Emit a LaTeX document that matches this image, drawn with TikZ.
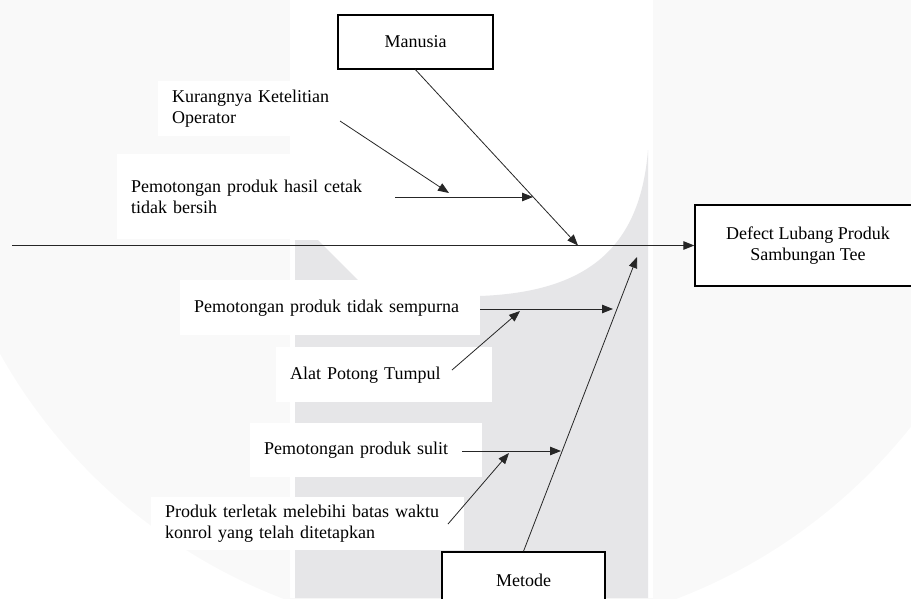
\documentclass[tikz,border=0pt]{standalone}
\usepackage{fontspec}
\setmainfont{Liberation Serif}
\usetikzlibrary{arrows.meta}
\definecolor{wmdisc}{RGB}{249,249,249}
\definecolor{wmband}{RGB}{230,230,232}

\begin{document}
\begin{tikzpicture}[x=1pt,y=-1pt,font=\fontsize{18}{21.5}\selectfont,
  bone/.style={draw=black!85,line width=0.8pt},
  arr/.style={bone,-{Triangle[length=11pt,width=8.5pt]}},
  catbox/.style={draw,line width=1.4pt,fill=white,minimum width=#1},
  cause/.style={fill=white,anchor=north west,align=left,inner xsep=14pt,inner ysep=0pt}]
	\useasboundingbox (0,0) rectangle (911,598);
	%watermark
	\begin{scope}
	  \clip (0,0) rectangle (911,598);
	  \fill[wmdisc] (480,85) circle[radius=550pt];
	  \fill[white] (290,0) rectangle (653,598);
	  \fill[wmband] (295,598) -- (295,240) -- (318,240) -- (362,284) -- (480,296)
	    .. controls (585,292) and (640,250) .. (648,150) -- (648,598) -- cycle;
	\end{scope}

	%causes
	\node[cause,text width=162pt,minimum height=55pt] (kurang) at (158,81) {Kurangnya Ketelitian\\Operator};
	\node[cause,text width=252pt,minimum height=85pt] (cetak) at (117,154) {Pemotongan produk hasil cetak\\tidak bersih};
	\node[cause,text width=272pt,minimum height=55pt] (sempurna) at (180,280) {Pemotongan produk tidak sempurna};
	\node[cause,text width=188pt,minimum height=55pt] (tumpul) at (276,347) {Alat Potong Tumpul};
	\node[cause,text width=204pt,minimum height=54pt] (sulit) at (250,423) {Pemotongan produk sulit};
	\node[cause,text width=285pt,minimum height=53pt] (terletak) at (151,497) {Produk terletak melebihi batas waktu\\konrol yang telah ditetapkan};

	%categories and effect
	\node[catbox=155pt,minimum height=54pt] (man) at (415.5,42) {Manusia};
	\node[catbox=163pt,minimum height=56pt] (met) at (523.5,580) {Metode};
	\node[catbox=226pt,minimum height=81pt,align=center] (eff) at (808,245.5) {Defect Lubang Produk\\Sambungan Tee};

	%spine
	\coordinate (tail) at (12,245.5);
	\draw[arr,line width=1.1pt] (tail) -- (eff.west);

	%main bones
	\coordinate (mantip) at (578,245.5);
	\draw[arr] (man.south) -- (mantip); %Manusia
	\coordinate (mettip) at (637,257);
	\draw[arr] (met.north) -- (mettip); %Metode

	%sub bones Manusia
	\coordinate (cetakA) at (395,197);
	\coordinate (cetakB) at (533,197);
	\draw[arr] (cetakA) -- (cetakB);
	\coordinate (kurangA) at (340,121);
	\coordinate (kurangB) at (449,193);
	\draw[arr] (kurangA) -- (kurangB);

	%sub bones Metode
	\coordinate (sempurnaA) at (480,309);
	\coordinate (sempurnaB) at (613,309);
	\draw[arr] (sempurnaA) -- (sempurnaB);
	\coordinate (tumpulA) at (452,370);
	\coordinate (tumpulB) at (520,311);
	\draw[arr] (tumpulA) -- (tumpulB);
	\coordinate (sulitA) at (462,451);
	\coordinate (sulitB) at (561,451);
	\draw[arr] (sulitA) -- (sulitB);
	\coordinate (terletakA) at (448,524);
	\coordinate (terletakB) at (509,453);
	\draw[arr] (terletakA) -- (terletakB);
\end{tikzpicture}
\end{document}
